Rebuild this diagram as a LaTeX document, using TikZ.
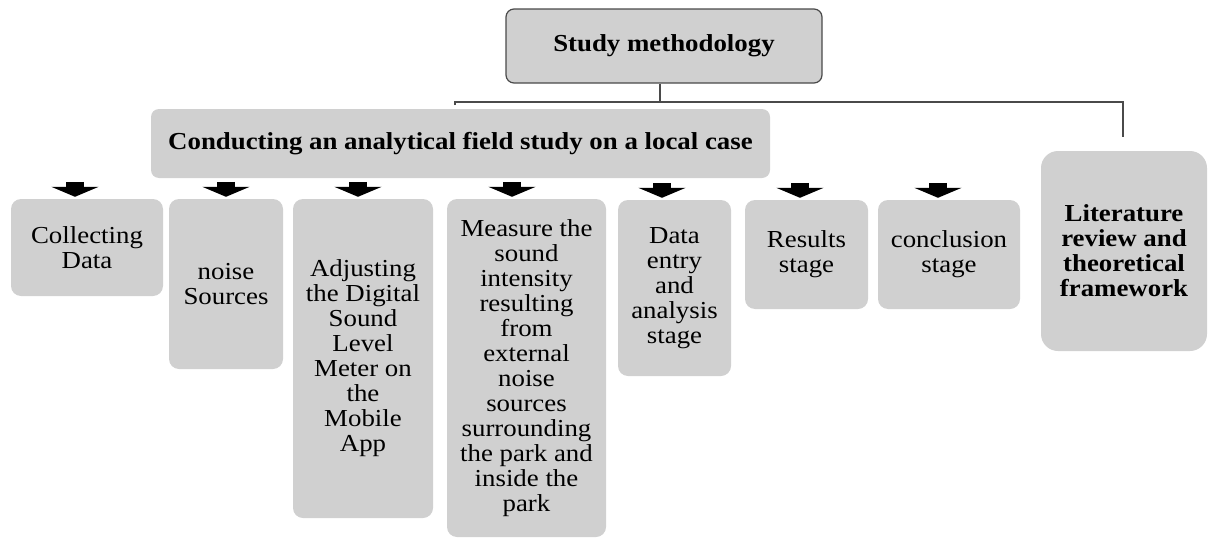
\documentclass[tikz,border=0pt]{standalone}
\usepackage{fontspec}
\setmainfont{Liberation Serif}[FakeStretch=1.1]
\usetikzlibrary{arrows.meta}

\definecolor{boxgray}{HTML}{D0D0D0}
\definecolor{linegray}{HTML}{4A4A4A}

\tikzset{
  stage/.style={rectangle, rounded corners=10pt, fill=boxgray, align=center, inner sep=0pt,
    font=\fontsize{24.4}{25}\selectfont},
  headbox/.style={stage, font=\fontsize{24.4}{25}\selectfont\bfseries},
  link/.style={draw=linegray, line width=1.1pt},
  blockarrow/.style={line width=18pt, -{Triangle[width=47pt, length=10pt]}}
}

\begin{document}
\begin{tikzpicture}[x=1pt, y=-1pt]
\useasboundingbox (0,0) rectangle (1208,538);

\node (study) at (664,46) [headbox, draw=linegray, line width=1.2pt, rounded corners=8pt,
  minimum width=316, minimum height=74] {Study methodology};
\node (field) at (460.5,143.5) [headbox, rounded corners=8pt,
  minimum width=619, minimum height=69] {Conducting an analytical field study on a local case};
\node (lit) at (1124,251) [headbox, rounded corners=17pt,
  minimum width=166, minimum height=200] {Literature\\review and\\theoretical\\framework};

\node (collect) at (87,247.5) [stage, minimum width=152, minimum height=97] {Collecting\\Data};
\node (noise) at (226,284) [stage, minimum width=114, minimum height=170] {noise\\Sources};
\node (adjust) at (363,358.5) [stage, minimum width=140, minimum height=319]
  {Adjusting\\the Digital\\Sound\\Level\\Meter on\\the\\Mobile\\App};
\node (measure) at (526.5,368) [stage, minimum width=159, minimum height=338]
  {Measure the\\sound\\intensity\\resulting\\from\\external\\noise\\sources\\surrounding\\the park and\\inside the\\park};
\node (entry) at (674.5,288) [stage, minimum width=113, minimum height=176] {Data\\entry\\and\\analysis\\stage};
\node (results) at (806.5,254.5) [stage, minimum width=123, minimum height=109] {Results\\stage};
\node (concl) at (949,254.5) [stage, minimum width=142, minimum height=109] {conclusion\\stage};

\coordinate (bus) at (660,102);
\coordinate (lt) at (455,105);
\coordinate (rt) at (1123,137);
\draw[link] (study.south -| bus) -- (bus);
\draw[link] (lt) -- (lt |- bus) -- (bus -| rt) -- (rt);

\foreach \n/\dx in {collect/-12, noise/0, adjust/-5, measure/-14.5, entry/-12.5, results/-6.5, concl/-11}
  \draw[blockarrow] ([xshift=\dx, yshift=17]\n.north) -- ([xshift=\dx, yshift=2]\n.north);
\end{tikzpicture}
\end{document}
